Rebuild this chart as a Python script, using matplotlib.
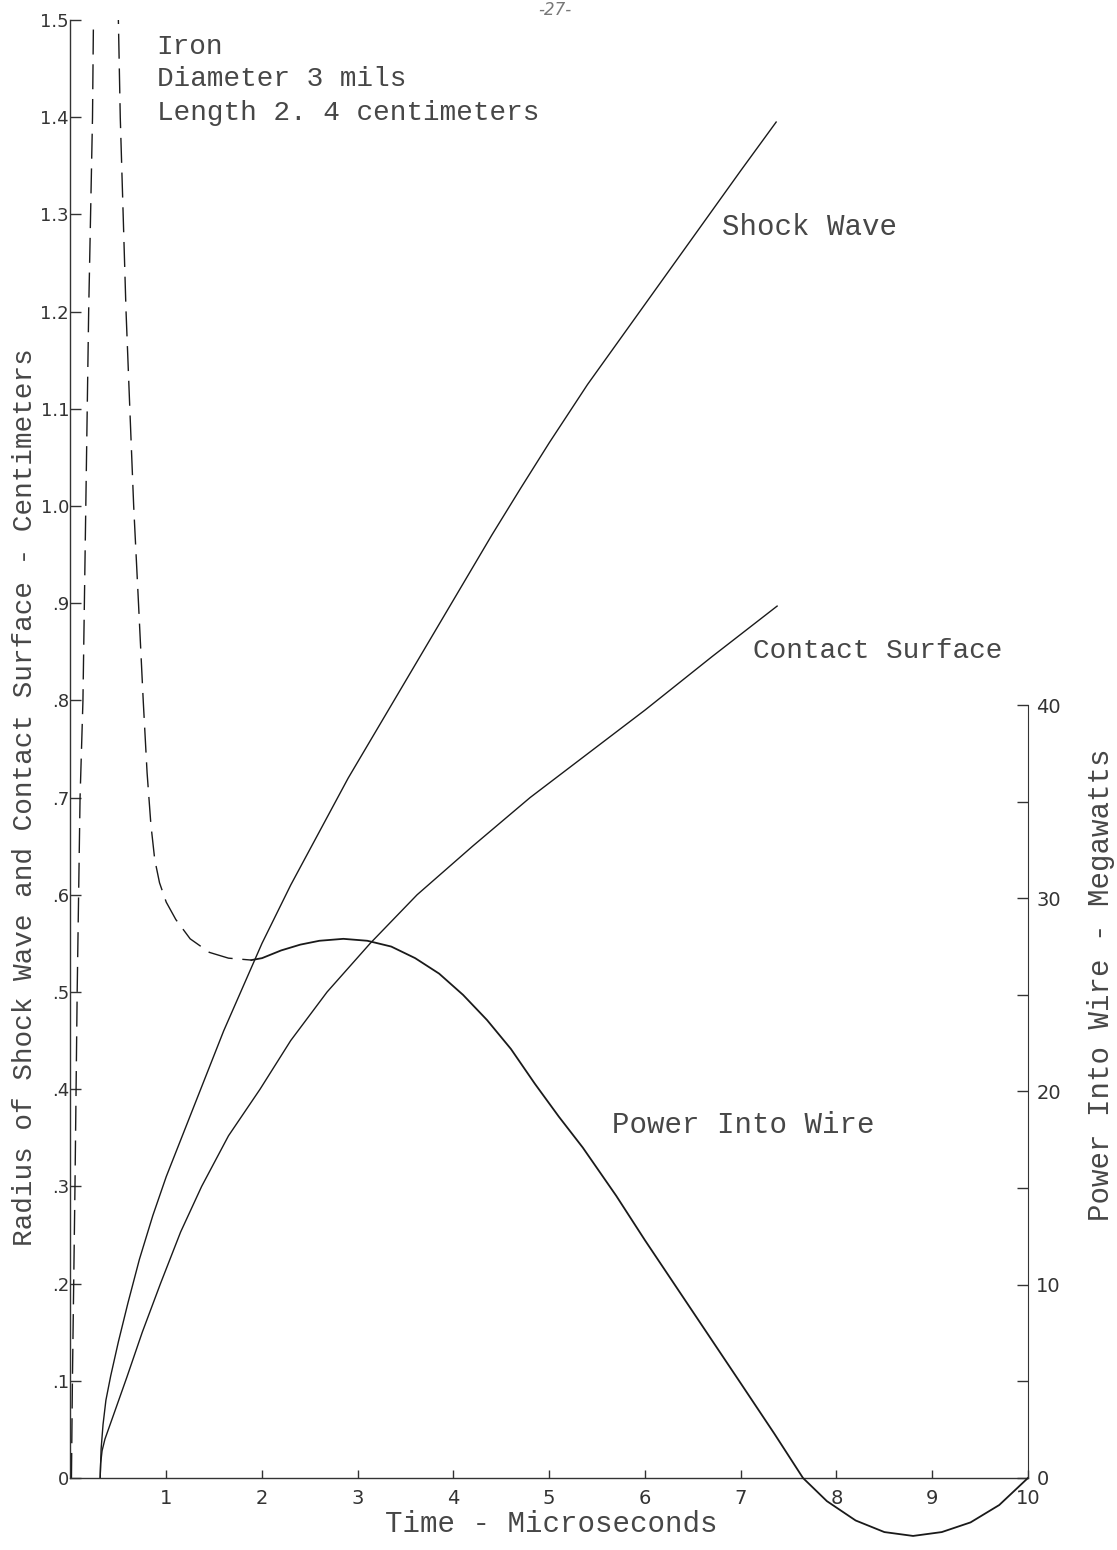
"""plot.py

Exploding wire: shock wave and contact surface radius, with power into wire.
"""

import matplotlib

matplotlib.use("Agg")
import matplotlib.pyplot as plt

# radius curves, centimeters vs microseconds
shock_time = [0.31, 0.32, 0.34, 0.37, 0.42, 0.50, 0.60, 0.72, 0.86, 1.00,
              1.20, 1.40, 1.60, 1.80, 2.00, 2.30, 2.60, 2.90, 3.20, 3.50,
              3.80, 4.10, 4.40, 4.70, 5.00, 5.40, 5.80, 6.20, 6.60, 7.00, 7.37]
shock_radius = [0.0, 0.03, 0.055, 0.08, 0.105, 0.14, 0.18, 0.225, 0.27, 0.31,
                0.36, 0.41, 0.46, 0.505, 0.55, 0.61, 0.665, 0.72, 0.77, 0.82,
                0.87, 0.92, 0.97, 1.018, 1.065, 1.125, 1.18, 1.235, 1.29, 1.345, 1.395]

contact_time = [0.31, 0.315, 0.33, 0.36, 0.45, 0.59, 0.75, 0.94, 1.15, 1.37,
                1.65, 1.98, 2.30, 2.68, 3.13, 3.62, 4.20, 4.80, 5.40, 6.00,
                6.70, 7.38]
contact_radius = [0.0, 0.015, 0.028, 0.04, 0.065, 0.104, 0.15, 0.20, 0.253, 0.30,
                  0.352, 0.40, 0.45, 0.50, 0.55, 0.60, 0.65, 0.70, 0.745, 0.79,
                  0.845, 0.897]

# power into wire, megawatts (dashed parts run off the top of the scale)
rise_time = [0.01, 0.02, 0.047, 0.07, 0.10, 0.13, 0.16, 0.19, 0.23, 0.24, 0.25]
rise_power = [0.0, 5.0, 15.1, 25.2, 35.2, 40.2, 50.3, 60.4, 70.4, 75.5, 78.0]

fall_time = [0.49, 0.50, 0.52, 0.55, 0.58, 0.62, 0.66, 0.71, 0.76, 0.80,
             0.84, 0.88, 0.93, 1.00, 1.10, 1.25, 1.45, 1.65, 1.89]
fall_power = [78.0, 75.5, 70.4, 65.4, 60.4, 55.3, 50.3, 45.3, 40.2, 36.5,
              33.8, 32.0, 30.8, 29.8, 28.9, 27.9, 27.2, 26.9, 26.8]

power_time = [1.89, 2.00, 2.20, 2.40, 2.60, 2.85, 3.10, 3.35, 3.60, 3.85,
              4.10, 4.35, 4.60, 4.85, 5.10, 5.35, 5.70, 6.00, 6.50, 7.00,
              7.35, 7.65, 7.90, 8.20, 8.50, 8.80, 9.10, 9.40, 9.70, 10.0]
power_mw = [26.8, 26.9, 27.3, 27.6, 27.8, 27.9, 27.8, 27.5, 26.9, 26.1,
            25.0, 23.7, 22.2, 20.4, 18.7, 17.1, 14.6, 12.3, 8.6, 4.9,
            2.3, 0.0, -1.2, -2.2, -2.8, -3.0, -2.8, -2.3, -1.4, 0.0]

radius_ticks = [0.0, 0.1, 0.2, 0.3, 0.4, 0.5, 0.6, 0.7, 0.8, 0.9,
                1.0, 1.1, 1.2, 1.3, 1.4, 1.5]
radius_labels = ["0", ".1", ".2", ".3", ".4", ".5", ".6", ".7", ".8", ".9",
                 "1.0", "1.1", "1.2", "1.3", "1.4", "1.5"]
time_ticks = [1, 2, 3, 4, 5, 6, 7, 8, 9, 10]
power_ticks = [0, 10, 20, 30, 40]
power_minor = [5, 15, 25, 35]

MW_PER_CM = 50.3  # 40 MW sits level with about 0.795 cm
Y_LOW = -0.07

TYPE_FONT = "Liberation Mono"
TICK_FONT = "DejaVu Sans"
INK = "#1a1a1a"
AXIS_INK = "#333333"
TEXT_INK = "#474747"
DASH = (0, (18, 7))

fig = plt.figure(figsize=(11.17, 15.5), dpi=100)
ax = fig.add_axes([0.0631, 0.00258, 0.8572, 0.98452])
ax.set_xlim(0, 10)
ax.set_ylim(Y_LOW, 1.5)

ax.plot(shock_time, shock_radius, color=INK, lw=1.0)
ax.plot(contact_time, contact_radius, color=INK, lw=1.0)

ax2 = ax.twinx()
ax2.set_ylim(Y_LOW * MW_PER_CM, 1.5 * MW_PER_CM)
ax2.plot(rise_time, rise_power, color=INK, lw=1.0, ls=DASH)
ax2.plot(fall_time, fall_power, color=INK, lw=1.0, ls=DASH)
ax2.plot(power_time, power_mw, color=INK, lw=1.3)

# left axis and time axis
for side in ("top", "right"):
    ax.spines[side].set_visible(False)
ax.spines["bottom"].set_position(("data", 0))
ax.spines["bottom"].set_bounds(0, 10)
ax.spines["left"].set_bounds(0, 1.5)
for side in ("bottom", "left"):
    ax.spines[side].set_color(AXIS_INK)
    ax.spines[side].set_linewidth(1.0)

ax.set_yticks(radius_ticks)
ax.set_yticklabels(radius_labels, fontfamily=TICK_FONT, fontsize=13, color=AXIS_INK)
ax.set_xticks(time_ticks)
ax.set_xticklabels([str(t) for t in time_ticks], fontfamily=TICK_FONT,
                   fontsize=14, color=AXIS_INK)
ax.tick_params(axis="y", direction="in", length=8, width=1, pad=1, colors=AXIS_INK)
ax.tick_params(axis="x", direction="in", length=6, width=1, pad=8, colors=AXIS_INK)

# power axis on the right, only drawn from 0 to 40
for side in ("top", "left", "bottom"):
    ax2.spines[side].set_visible(False)
ax2.spines["right"].set_bounds(0, 40)
ax2.spines["right"].set_color(AXIS_INK)
ax2.set_yticks(power_ticks)
ax2.set_yticks(power_minor, minor=True)
ax2.set_yticklabels([str(p) for p in power_ticks], fontfamily=TICK_FONT,
                    fontsize=14, color=AXIS_INK)
ax2.tick_params(axis="y", which="both", direction="in", length=8, width=1,
                pad=6, colors=AXIS_INK)

# axis titles
ax.text(-0.40, 0.70, "Radius of Shock Wave and Contact Surface - Centimeters",
        rotation=90, rotation_mode="anchor", ha="center", va="baseline",
        fontfamily=TYPE_FONT, fontsize=20, color=TEXT_INK, clip_on=False)
ax.text(10.76, 0.507, "Power Into Wire - Megawatts", rotation=90,
        ha="center", va="center", fontfamily=TYPE_FONT, fontsize=21,
        color=TEXT_INK, clip_on=False)
ax.text(5.02, -0.047, "Time - Microseconds", ha="center", va="center",
        fontfamily=TYPE_FONT, fontsize=21, color=TEXT_INK)

# notes
ax.text(0.90, 1.472, "Iron", ha="left", va="center",
        fontfamily=TYPE_FONT, fontsize=20, color=TEXT_INK)
ax.text(0.90, 1.439, "Diameter 3 mils", ha="left", va="center",
        fontfamily=TYPE_FONT, fontsize=20, color=TEXT_INK)
ax.text(0.90, 1.404, "Length 2. 4 centimeters", ha="left", va="center",
        fontfamily=TYPE_FONT, fontsize=20, color=TEXT_INK)

ax.text(6.80, 1.287, "Shock Wave", ha="left", va="center",
        fontfamily=TYPE_FONT, fontsize=21, color=TEXT_INK)
ax.text(7.13, 0.851, "Contact Surface", ha="left", va="center",
        fontfamily=TYPE_FONT, fontsize=20, color=TEXT_INK)
ax.text(5.655, 0.363, "Power Into Wire", ha="left", va="center",
        fontfamily=TYPE_FONT, fontsize=21, color=TEXT_INK)

fig.text(0.497, 0.9995, "-27-", ha="center", va="top", fontsize=12,
         style="italic", color="#777777")

fig.savefig("out.png", dpi=100)
